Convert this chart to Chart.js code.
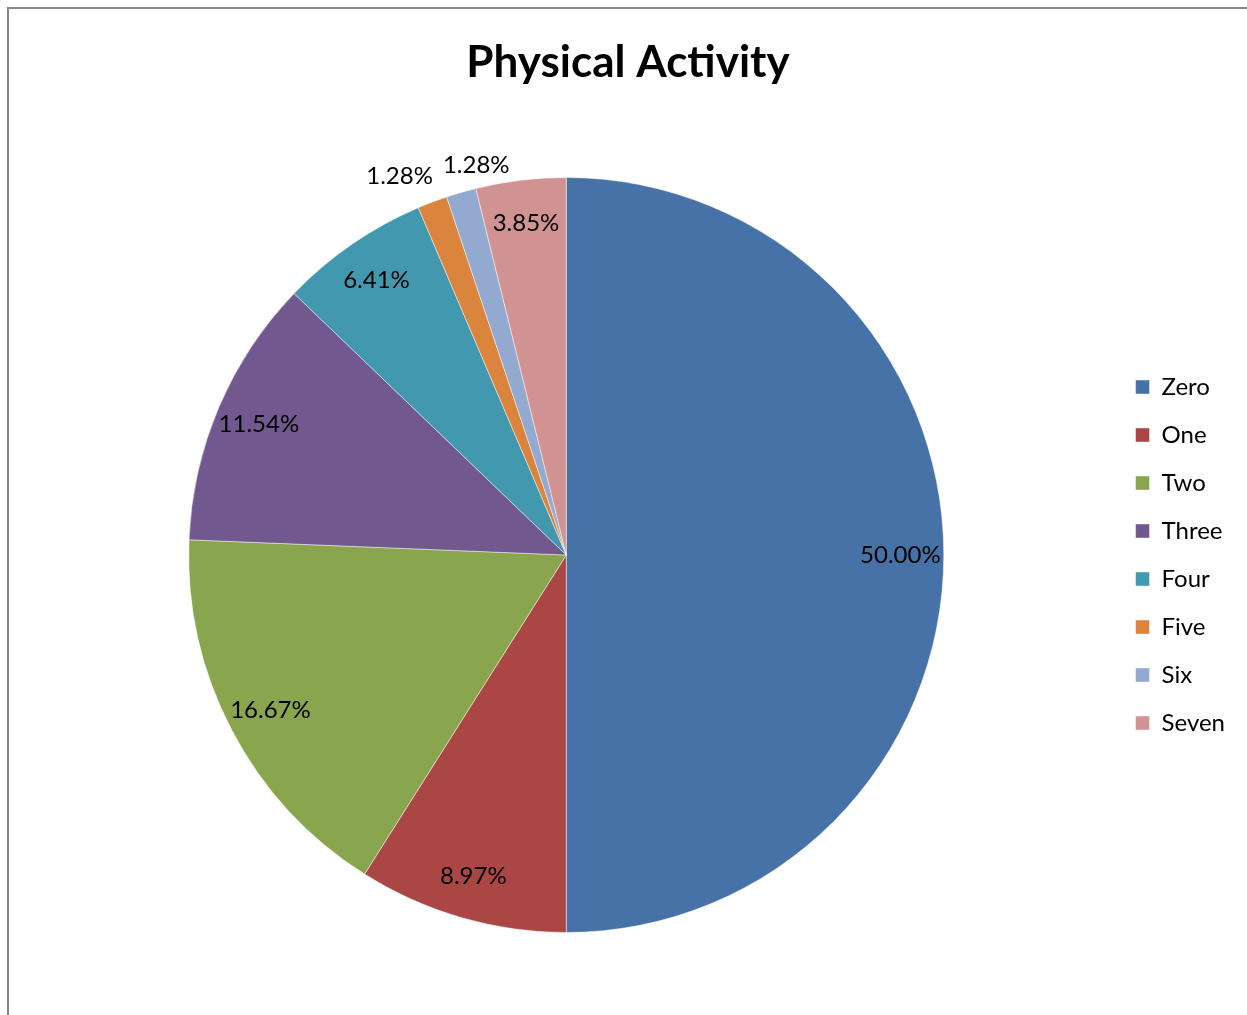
<!DOCTYPE html>
<html>
<head>
<meta charset="utf-8">
<title>Physical Activity</title>
<script src="https://cdn.jsdelivr.net/npm/chart.js@4.4.0/dist/chart.umd.min.js"></script>
<style>
  html, body { margin: 0; padding: 0; background: #fff; overflow: hidden; }
  .frame {
    position: absolute; left: 7px; top: 7px;
    width: 1400px; height: 1200px;
    border-left: 2px solid #868686; border-top: 2px solid #868686;
  }
  .chart-wrap { position: absolute; left: 0; top: 0; width: 1247px; height: 1015px; }
</style>
</head>
<body>
<div class="frame"></div>
<div class="chart-wrap"><canvas id="activityChart"></canvas></div>
<script>
  /* ---- data ---- */
  var categories = ['Zero', 'One', 'Two', 'Three', 'Four', 'Five', 'Six', 'Seven'];
  var percentValues = [50.00, 8.97, 16.67, 11.54, 6.41, 1.28, 1.28, 3.85];
  var sliceColors = ['#4672A7', '#AA4643', '#89A54E', '#71588F', '#4198AF', '#DB843D', '#93A9CF', '#D19392'];

  var FONT = 'Lato, "Open Sans", sans-serif';

  /* percent labels, Excel "best fit" style */
  var pieLabels = {
    id: 'pieLabels',
    afterDatasetsDraw: function (chart) {
      var ctx = chart.ctx;
      var meta = chart.getDatasetMeta(0);
      var values = chart.data.datasets[0].data;
      ctx.save();
      ctx.font = '24px ' + FONT;
      ctx.fillStyle = '#000';
      ctx.textAlign = 'center';
      ctx.textBaseline = 'middle';

      var boxes = [];
      meta.data.forEach(function (arc, i) {
        var p = arc.getProps(['x', 'y', 'startAngle', 'endAngle', 'outerRadius'], true);
        var mid = (p.startAngle + p.endAngle) / 2;
        var outside = values[i] < 2;
        var d = outside ? p.outerRadius + 28 : p.outerRadius * 0.885;
        var text = values[i].toFixed(2) + '%';
        var w = ctx.measureText(text).width;
        boxes.push({
          text: text, outside: outside, w: w, h: 24,
          x: p.x + Math.cos(mid) * d,
          y: p.y + Math.sin(mid) * d
        });
      });

      /* push overlapping outside labels apart */
      var outs = boxes.filter(function (b) { return b.outside; });
      for (var a = 0; a < outs.length; a++) {
        for (var b = a + 1; b < outs.length; b++) {
          var A = outs[a], B = outs[b];
          var ox = (A.w + B.w) / 2 - Math.abs(A.x - B.x);
          var oy = (A.h + B.h) / 2 - Math.abs(A.y - B.y);
          if (ox > 0 && oy > 0) {
            var shift = (ox + 10) / 2;
            var dir = A.x <= B.x ? 1 : -1;
            A.x -= shift * dir;
            B.x += shift * dir;
          }
        }
      }

      boxes.forEach(function (b) { ctx.fillText(b.text, b.x, b.y); });
      ctx.restore();
    }
  };

  var ctx = document.getElementById('activityChart').getContext('2d');
  new Chart(ctx, {
    type: 'pie',
    data: {
      labels: categories,
      datasets: [{
        data: percentValues,
        backgroundColor: sliceColors,
        borderColor: 'rgba(255,255,255,0.45)',
        borderWidth: 1
      }]
    },
    options: {
      responsive: true,
      maintainAspectRatio: false,
      animation: false,
      layout: { padding: { left: 21, right: 12, top: 0, bottom: 82 } },
      plugins: {
        title: {
          display: true,
          text: 'Physical Activity',
          color: '#000',
          font: { family: FONT, size: 44, weight: 'bold' },
          padding: { top: 36, bottom: 88.2 }
        },
        legend: {
          position: 'right',
          fullSize: false,
          labels: {
            font: { family: FONT, size: 24 },
            color: '#000',
            boxWidth: 14,
            boxHeight: 14,
            padding: 24
          }
        },
        tooltip: { enabled: false }
      }
    },
    plugins: [pieLabels]
  });
</script>
</body>
</html>
